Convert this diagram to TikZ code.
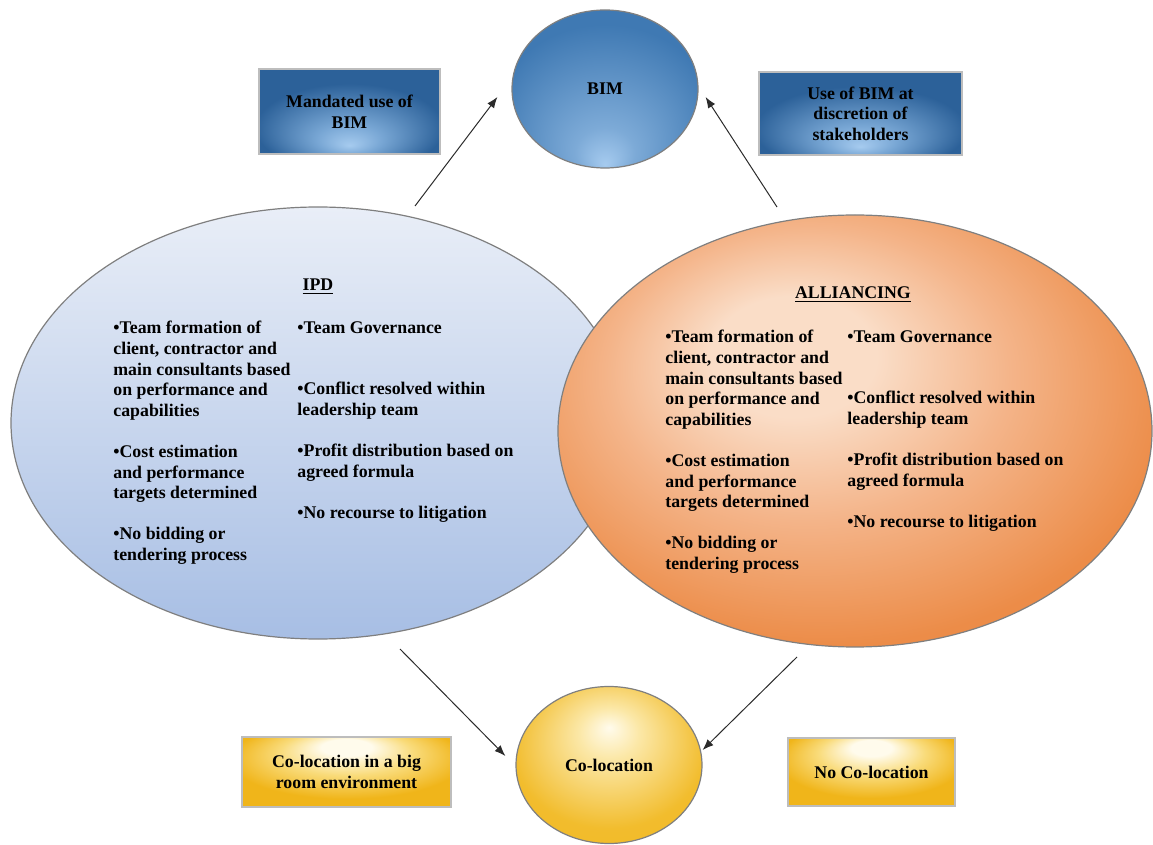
\documentclass[tikz,border=0pt]{standalone}
\usepackage{fontspec}
\setmainfont{Liberation Serif}
\usetikzlibrary{shapes.geometric,arrows.meta,calc}

% palette
\definecolor{bimdark}{HTML}{2C6199}
\definecolor{bimmid}{HTML}{3F79B3}
\definecolor{bimlight}{HTML}{A6CBEF}
\definecolor{ipdtop}{HTML}{E9EEF7}
\definecolor{ipdbot}{HTML}{A7BEE4}
\definecolor{allilight}{HTML}{FADDC7}
\definecolor{allimid}{HTML}{F4B489}
\definecolor{allidark}{HTML}{EC8C48}
\definecolor{goldlight}{HTML}{FFFBEC}
\definecolor{goldmid}{HTML}{F9DB7A}
\definecolor{golddark}{HTML}{F0B51A}
\definecolor{rimgrey}{HTML}{7F7F7F}
\definecolor{boxrim}{HTML}{BDBDBD}
\definecolor{arrowgrey}{HTML}{2B2B2B}

% radial glows (path box spans +-25bp)
\pgfdeclareradialshading{bimglow}{\pgfpoint{0bp}{-24bp}}{%
  color(0bp)=(bimlight); color(8bp)=(bimlight!60!bimmid);
  color(30bp)=(bimmid); color(50bp)=(bimmid!90!bimdark)}
\pgfdeclareradialshading{blueboxglow}{\pgfpoint{0bp}{-20bp}}{%
  color(0bp)=(bimlight); color(9bp)=(bimlight!55!bimmid);
  color(26bp)=(bimdark); color(50bp)=(bimdark)}
\pgfdeclareradialshading{alliglow}{\pgfpoint{-6bp}{10bp}}{%
  color(0bp)=(allilight); color(7bp)=(allilight);
  color(17bp)=(allimid); color(29bp)=(allidark); color(50bp)=(allidark)}
\pgfdeclareradialshading{colocglow}{\pgfpoint{0bp}{12bp}}{%
  color(0bp)=(goldlight); color(8bp)=(goldmid!60!goldlight);
  color(26bp)=(golddark!80!goldmid); color(50bp)=(golddark)}
\pgfdeclareradialshading{goldboxglow}{\pgfpoint{0bp}{20bp}}{%
  color(0bp)=(goldlight); color(6bp)=(goldlight);
  color(16bp)=(goldmid); color(28bp)=(golddark); color(50bp)=(golddark)}

\tikzset{
  txt/.style={font=\fontsize{8.9pt}{10.3pt}\selectfont\bfseries, text=black},
  bullets/.style={txt, align=left, anchor=north west, inner sep=0pt},
  bigoval/.style={ellipse, draw=rimgrey, line width=0.6pt, inner sep=0pt},
  smalloval/.style={ellipse, draw=rimgrey, line width=0.6pt, inner sep=0pt, txt},
  bluebox/.style={rectangle, draw=boxrim, line width=0.9pt, shading=blueboxglow,
    txt, align=center, inner sep=0pt},
  goldbox/.style={rectangle, draw=boxrim, line width=0.9pt, shading=goldboxglow,
    txt, align=center, inner sep=0pt},
  link/.style={draw=arrowgrey, line width=0.5pt, -{Latex[length=5.5pt,width=4.2pt]}},
}

\begin{document}
\begin{tikzpicture}[x=0.5pt, y=-0.5pt]
\useasboundingbox (0,0) rectangle (1153,845);

% ---- IPD ----
\node[bigoval, top color=ipdtop, bottom color=ipdbot,
      minimum width=307pt, minimum height=216pt] (ipd) at (318,423) {};
\node[txt] (ipdtitle) at (318,287) {\underline{IPD}};
\node[bullets] (ipdleft) at (113,321) {%
  •Team formation of\\ client, contractor and\\ main consultants based\\
  on performance and\\ capabilities\\[10.3pt]
  •Cost estimation\\ and performance\\ targets determined\\[10.3pt]
  •No bidding or\\ tendering process};
\node[bullets] (ipdright) at (297,321) {%
  •Team Governance\\[20.6pt]
  •Conflict resolved within\\ leadership team\\[10.3pt]
  •Profit distribution based on\\ agreed formula\\[10.3pt]
  •No recourse to litigation};

% ---- ALLIANCING ----
\node[bigoval, shading=alliglow,
      minimum width=297pt, minimum height=216pt] (alli) at (855,431) {};
\node[txt] (allititle) at (853,295) {\underline{ALLIANCING}};
\node[bullets] (allileft) at (665,330) {%
  •Team formation of\\ client, contractor and\\ main consultants based\\
  on performance and\\ capabilities\\[10.3pt]
  •Cost estimation\\ and performance\\ targets determined\\[10.3pt]
  •No bidding or\\ tendering process};
\node[bullets] (alliright) at (847,330) {%
  •Team Governance\\[20.6pt]
  •Conflict resolved within\\ leadership team\\[10.3pt]
  •Profit distribution based on\\ agreed formula\\[10.3pt]
  •No recourse to litigation};

% ---- BIM ----
\node[smalloval, shading=bimglow, minimum width=93pt, minimum height=79pt]
  (bim) at (605,89) {BIM};
\node[bluebox, minimum width=90.5pt, minimum height=42.5pt]
  (mandated) at (349.5,111.5) {Mandated use of\\ BIM};
\node[bluebox, minimum width=101.5pt, minimum height=41.5pt]
  (discretion) at (860.5,113.5) {Use of BIM at\\ discretion of\\ stakeholders};

% ---- Co-location ----
\node[smalloval, shading=colocglow, minimum width=93pt, minimum height=78.5pt]
  (coloc) at (609,765) {Co-location};
\node[goldbox, minimum width=104.5pt, minimum height=35pt]
  (bigroom) at (346.5,772) {Co-location in a big\\ room environment};
\node[goldbox, minimum width=83.5pt, minimum height=34pt]
  (nocoloc) at (871.5,772) {No Co-location};

% ---- connectors ----
\coordinate (ipdup)    at (415,206);
\coordinate (alliup)   at (777,207);
\coordinate (ipddown)  at (400,649);
\coordinate (allidown) at (797,657);

\draw[link] (ipdup)    -- ($(bim.west)+(-14,8)$);
\draw[link] (alliup)   -- ($(bim.east)+(7,8)$);
\draw[link] (ipddown)  -- ($(coloc.west)+(-10,-9)$);
\draw[link] (allidown) -- ($(coloc.east)+(0,-15)$);
\end{tikzpicture}
\end{document}
